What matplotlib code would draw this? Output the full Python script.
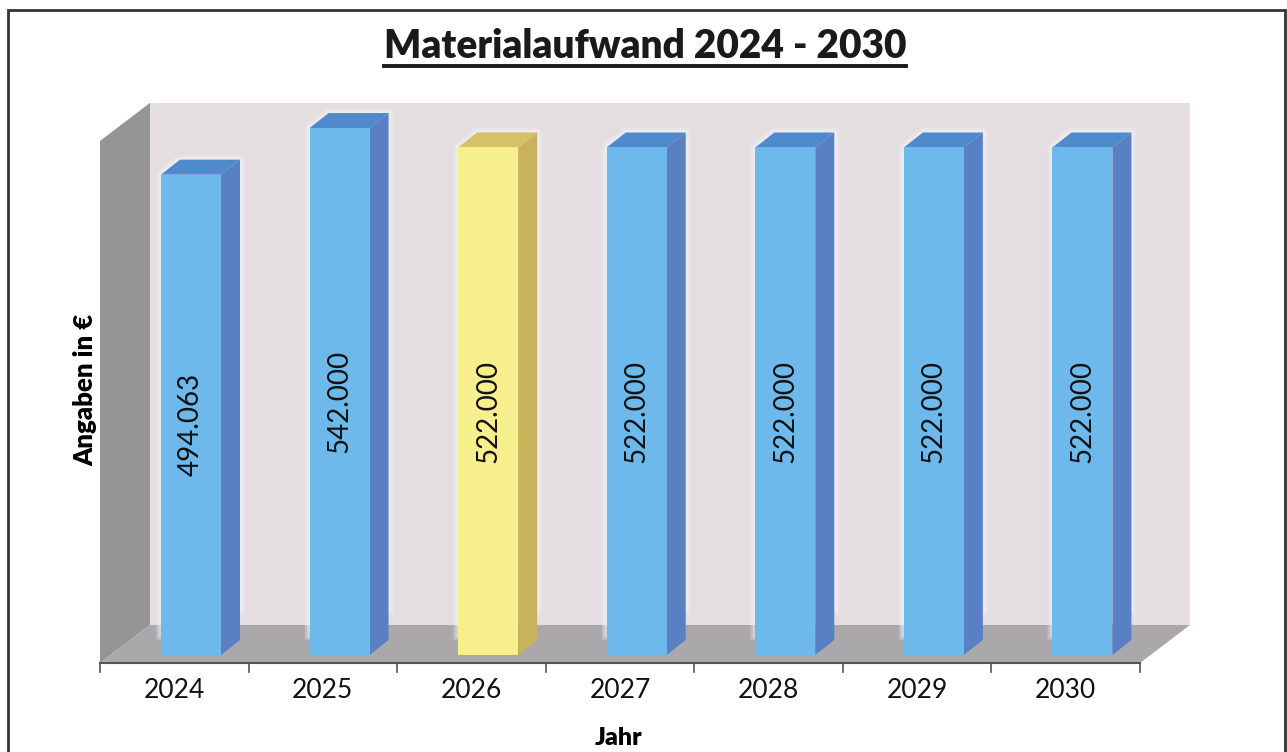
import numpy as np
import matplotlib.pyplot as plt
from matplotlib.patches import Polygon, Rectangle
from matplotlib.lines import Line2D

plt.rcParams['font.family'] = ['Lato', 'DejaVu Sans']

years = ['2024', '2025', '2026', '2027', '2028', '2029', '2030']
values = [494063, 542000, 522000, 522000, 522000, 522000, 522000]
value_labels = ['494.063', '542.000', '522.000', '522.000', '522.000', '522.000', '522.000']
highlight = '2026'
wall_top = 537000
title = 'Materialaufwand 2024 - 2030'

W, H = 1287, 752
fig = plt.figure(figsize=(W / 100, H / 100), dpi=100)

# the axes is the front plane of the 3d box, walls and bars are pushed back from it
ax_l, ax_b, ax_w, ax_h = 100, 89, 1040, 560
ax = fig.add_axes([ax_l / W, ax_b / H, ax_w / W, ax_h / H])
n = len(years)
vmax = 576000
ax.set_xlim(-0.5, n - 0.5)
ax.set_ylim(0, vmax)
ax.axis('off')

# pixel offsets -> data units
px_x = n / ax_w
px_y = vmax / ax_h


def shift(pts, dx, dy):
    return [(x + dx * px_x, y + dy * px_y) for x, y in pts]


def poly(pts, color, z):
    ax.add_patch(Polygon(pts, closed=True, fc=color, ec='none', zorder=z, clip_on=False))


# box: back wall, left wall, floor
depth = (50, 38)
x0, x1 = -0.5, n - 0.5
poly(shift([(x0, 0), (x1, 0), (x1, wall_top), (x0, wall_top)], *depth), '#e4dee1', 1)
poly([(x0, 0), (x0, wall_top)] + shift([(x0, wall_top), (x0, 0)], *depth), '#959597', 1)
poly([(x0, 0), (x1, 0)] + shift([(x1, 0), (x0, 0)], *depth), '#aaa8aa', 1)

# bars
bar_w = 60 * px_x
bar_dx, bar_dy = 19, 15
base = 8 * px_y
for i, (yr, v, lab) in enumerate(zip(years, values, value_labels)):
    if yr == highlight:
        front, side, top = '#f7ee8e', '#c8b25a', '#d6c068'
    else:
        front, side, top = '#6db9ec', '#5a80c4', '#4f8acc'
    left = i - 0.5 + 61 * px_x
    right = left + bar_w
    y1 = base + v
    # soft light glow along the left and upper edges
    glow = [(left, base + 20 * px_y), (left, y1)] + shift([(left, y1), (right, y1), (right, base + 30 * px_y)], bar_dx, bar_dy)
    xs, ys = zip(*glow)
    for lw, a in ((7, 0.25), (4, 0.4)):
        ax.add_line(Line2D(xs, ys, color='#f2f5fa', lw=lw, alpha=a, zorder=2,
                           solid_joinstyle='round', clip_on=False))
    poly([(right, base), (right, y1)] + shift([(right, y1), (right, base)], bar_dx, bar_dy), side, 3)
    poly([(left, y1), (right, y1)] + shift([(right, y1), (left, y1)], bar_dx, bar_dy), top, 3)
    poly([(left, base), (right, base), (right, y1), (left, y1)], front, 3)
    ax.text((left + right) / 2, base + v / 2 - 10 * px_y, lab, rotation=90, ha='center', va='center',
            fontsize=20, color='#111111', zorder=4)

# front edge with ticks between the categories
ax.add_line(Line2D([x0, x1], [0, 0], color='#555555', lw=1.5, zorder=5, clip_on=False))
for b in np.arange(n + 1) - 0.5:
    ax.add_line(Line2D([b, b], [0, -9 * px_y], color='#555555', lw=1.2, zorder=5, clip_on=False))
for i, yr in enumerate(years):
    ax.text(i, -28 * px_y, yr, ha='center', va='center', fontsize=19, color='#111111')

ax.text(2.99, -75 * px_y, 'Jahr', ha='center', va='center', fontsize=18, fontweight='heavy')
fig.text(85 / W, 1 - 390 / H, 'Angaben in €', rotation=90, ha='center', va='center',
         fontsize=18.5, fontweight='heavy')

t = fig.text(645 / W, 1 - 47 / H, title, ha='center', va='center', fontsize=28,
             fontweight='heavy', color='#1a1a1a')
fig.canvas.draw()
bb = t.get_window_extent().transformed(fig.transFigure.inverted())
fig.add_artist(Line2D([bb.x0, bb.x1], [1 - 66 / H] * 2, color='#1a1a1a', lw=2.8,
                      transform=fig.transFigure))

# frame round the whole chart
fig.add_artist(Rectangle((8 / W, -0.02), (1285 - 8) / W, 1.02 - 10 / H, transform=fig.transFigure,
                         fill=False, ec='#333333', lw=2))

fig.savefig('out.png', dpi=100)
